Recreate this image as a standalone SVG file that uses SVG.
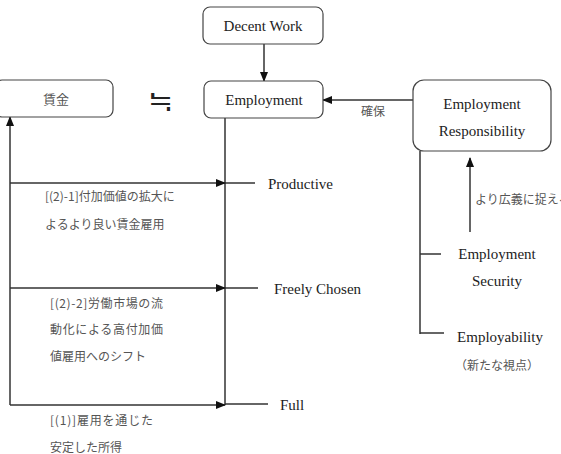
<svg xmlns="http://www.w3.org/2000/svg" width="561" height="454" viewBox="0 0 561 454">
<defs>
<marker id="ah" markerWidth="10" markerHeight="10" refX="9" refY="5" orient="auto" markerUnits="userSpaceOnUse">
<path d="M0,1 L10,5 L0,9 Z" fill="#111"/>
</marker>
<style>
.box{fill:#fff;stroke:#444;stroke-width:1.2}
.ln{fill:none;stroke:#333;stroke-width:1.5}
.en{font-family:"Liberation Serif","DejaVu Serif",serif;font-size:15px;fill:#222}
.jp{font-family:"Noto Sans CJK JP",sans-serif;font-size:12px;fill:#555}
</style>
</defs>
<rect width="561" height="454" fill="#fff"/>
<g id="connectors">
<line class="ln" x1="264" y1="44" x2="264" y2="81" marker-end="url(#ah)"/>
<line class="ln" x1="413" y1="100" x2="323" y2="100" marker-end="url(#ah)"/>
<line class="ln" x1="225" y1="118" x2="225" y2="405"/>
<line class="ln" x1="225" y1="183" x2="255" y2="183"/>
<line class="ln" x1="225" y1="288" x2="258" y2="288"/>
<line class="ln" x1="225" y1="404" x2="268" y2="404"/>
<line class="ln" x1="10" y1="405" x2="10" y2="117" marker-end="url(#ah)"/>
<line class="ln" x1="10" y1="183" x2="225" y2="183" marker-end="url(#ah)"/>
<line class="ln" x1="10" y1="288" x2="225" y2="288" marker-end="url(#ah)"/>
<line class="ln" x1="10" y1="405" x2="225" y2="405" marker-end="url(#ah)"/>
<line class="ln" x1="420" y1="151" x2="420" y2="334"/>
<line class="ln" x1="420" y1="254" x2="441" y2="254"/>
<line class="ln" x1="420" y1="333" x2="444" y2="333"/>
<line class="ln" x1="470" y1="232" x2="470" y2="158" marker-end="url(#ah)"/>
</g>
<g id="decent-work">
<rect class="box" x="203" y="7" width="120" height="37" rx="7"/>
<text class="en" x="263" y="31" text-anchor="middle">Decent Work</text>
</g>
<g id="employment">
<rect class="box" x="204" y="81" width="119" height="37" rx="7"/>
<text class="en" x="264" y="105" text-anchor="middle">Employment</text>
</g>
<g id="chingin">
<rect class="box" x="-5" y="80" width="118" height="37" rx="7"/>
<text class="jp" x="56" y="104" text-anchor="middle" style="font-size:13px">賃金</text>
</g>
<g id="approx">
<text x="160" y="111" text-anchor="middle" style="font-family:'Noto Sans CJK JP',sans-serif;font-size:30px;fill:#222">≒</text>
</g>
<g id="employment-responsibility">
<rect class="box" x="413" y="80" width="138" height="71" rx="11"/>
<text class="en" x="482" y="109" text-anchor="middle">Employment</text>
<text class="en" x="482" y="136" text-anchor="middle">Responsibility</text>
</g>
<g id="labels">
<text class="jp" x="361" y="116">確保</text>
<text class="jp" x="475" y="204">より広義に捉える</text>
<text class="en" x="268" y="189">Productive</text>
<text class="en" x="274" y="294">Freely Chosen</text>
<text class="en" x="280" y="410">Full</text>
<text class="en" x="497" y="259" text-anchor="middle">Employment</text>
<text class="en" x="497" y="286" text-anchor="middle">Security</text>
<text class="en" x="500" y="342" text-anchor="middle">Employability</text>
<text class="jp" x="497" y="370" text-anchor="middle">（新たな視点）</text>
<text class="jp" x="45" y="201">[(2)-1]付加価値の拡大に</text>
<text class="jp" x="45" y="229">よるより良い賃金雇用</text>
<text class="jp" x="50" y="308" textLength="113">[(2)-2]労働市場の流</text>
<text class="jp" x="50" y="334" textLength="113">動化による高付加価</text>
<text class="jp" x="50" y="361">値雇用へのシフト</text>
<text class="jp" x="50" y="425" textLength="103">[(1)]雇用を通じた</text>
<text class="jp" x="50" y="452">安定した所得</text>
</g>
</svg>
